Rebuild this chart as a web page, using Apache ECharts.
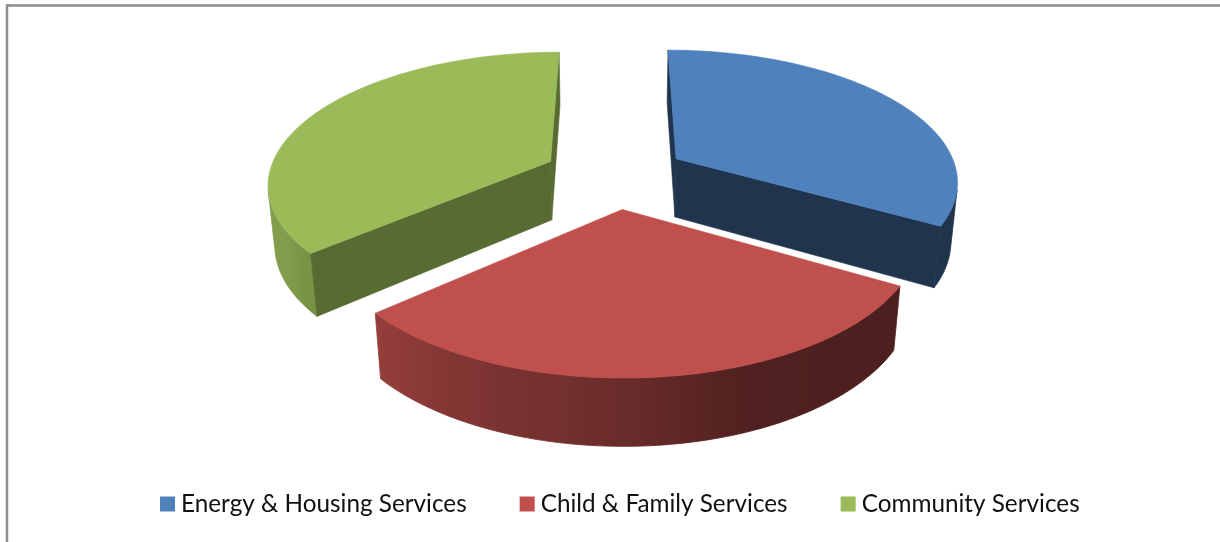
<!DOCTYPE html>
<html>
<head>
<meta charset="utf-8">
<style>html,body{margin:0;padding:0;background:#fff}#chart{width:1220px;height:542px}</style>
<script src="https://cdn.jsdelivr.net/npm/echarts@6/dist/echarts.min.js"></script>
</head>
<body>
<div id="chart"></div>
<script>
// Share of services by programme area
const categories = ['Energy & Housing Services', 'Child & Family Services', 'Community Services'];
const shares = [33.3, 30.3, 36.4];
const topColors = ['#4f81bd', '#c0504d', '#9bbb59'];
const cutShade = [0.41, 0.6, 0.57];

// Camera and pie solid, in world units
const view = { cx: 615, cy: 175, radius: 282, height: 68, explode: 72, elev: 27.5 * Math.PI / 180, dist: 1604 };

function project(x, y, z) {
  const s = Math.sin(view.elev), c = Math.cos(view.elev);
  const yc = y * s + z * c;
  const zc = view.dist + y * c - z * s;
  const k = view.dist / zc;
  return [view.cx + x * k, view.cy - yc * k];
}

function toRgb(hex, f) {
  const n = parseInt(hex.slice(1), 16);
  return 'rgb(' + [(n >> 16) & 255, (n >> 8) & 255, n & 255].map(v => Math.round(v * f)).join(',') + ')';
}

// Brightness of the outer wall against its outward heading in degrees, clockwise from the back
const wallStops = [[0, 0.41], [140, 0.4], [160, 0.42], [180, 0.55], [210, 0.68], [240, 0.84], [300, 0.88], [360, 0.88]];
function wallShade(deg) {
  for (let i = 1; i < wallStops.length; i++) {
    const a = wallStops[i - 1], b = wallStops[i];
    if (deg <= b[0]) return a[1] + (b[1] - a[1]) * (deg - a[0]) / (b[0] - a[0]);
  }
  return 0.88;
}

function signedArea(p) {
  let t = 0;
  for (let i = 0; i < p.length; i++) {
    const q = p[(i + 1) % p.length];
    t += p[i][0] * q[1] - q[0] * p[i][1];
  }
  return t / 2;
}

const total = shares.reduce((a, b) => a + b, 0);

function renderSlice(index) {
  const before = shares.slice(0, index).reduce((a, b) => a + b, 0);
  const a0 = before / total * 2 * Math.PI;
  const a1 = (before + shares[index]) / total * 2 * Math.PI;
  const mid = (a0 + a1) / 2;
  const ox = Math.sin(mid) * view.explode, oy = Math.cos(mid) * view.explode;
  const rim = (a, z) => project(ox + Math.sin(a) * view.radius, oy + Math.cos(a) * view.radius, z);
  const hub = z => project(ox, oy, z);
  const color = topColors[index];
  const children = [];
  const face = (points, fill) => children.push({
    type: 'polygon', shape: { points }, style: { fill, stroke: fill, lineWidth: 0.6 }
  });

  // Curved outer wall: the visible stretch as one polygon, shaded left to right
  const steps = 90;
  const upper = [], lower = [], marks = [];
  for (let i = 0; i < steps; i++) {
    const u0 = a0 + (a1 - a0) * i / steps;
    const u1 = a0 + (a1 - a0) * (i + 1) / steps;
    const strip = [rim(u0, 0), rim(u1, 0), rim(u1, -view.height), rim(u0, -view.height)];
    if (signedArea(strip) >= 0) continue;
    if (!upper.length) { upper.push(rim(u0, 0)); lower.push(rim(u0, -view.height)); marks.push([rim(u0, 0)[0], u0]); }
    upper.push(rim(u1, 0));
    lower.push(rim(u1, -view.height));
    marks.push([rim(u1, 0)[0], u1]);
  }
  if (upper.length) {
    marks.sort((p, q) => p[0] - q[0]);
    const xMin = marks[0][0], xMax = marks[marks.length - 1][0];
    const colorStops = marks.map(m => ({
      offset: (m[0] - xMin) / (xMax - xMin),
      color: toRgb(color, wallShade(m[1] * 180 / Math.PI))
    }));
    const fill = new echarts.graphic.LinearGradient(xMin, 0, xMax, 0, colorStops, true);
    children.push({
      type: 'polygon',
      shape: { points: upper.concat(lower.reverse()) },
      style: { fill, stroke: fill, lineWidth: 0.8 }
    });
  }

  // Straight cut walls; only those facing the camera are drawn
  const startWall = [hub(0), rim(a0, 0), rim(a0, -view.height), hub(-view.height)];
  const endWall = [hub(0), hub(-view.height), rim(a1, -view.height), rim(a1, 0)];
  const cutFill = toRgb(color, cutShade[index]);
  if (signedArea(startWall) < 0) face(startWall, cutFill);
  if (signedArea(endWall) < 0) face(endWall, cutFill);

  // Top face
  const top = [hub(0)];
  for (let i = 0; i <= steps; i++) top.push(rim(a0 + (a1 - a0) * i / steps, 0));
  face(top, color);
  return { type: 'group', children };
}

const chart = echarts.init(document.getElementById('chart'), null, { renderer: 'canvas' });
chart.setOption({
  animation: false,
  backgroundColor: '#ffffff',
  color: topColors,
  graphic: [
    { type: 'line', silent: true, shape: { x1: 7, y1: 5.5, x2: 1220, y2: 5.5 }, style: { stroke: '#8c8c8c', lineWidth: 2.5 } },
    { type: 'line', silent: true, shape: { x1: 7, y1: 4.25, x2: 7, y2: 542 }, style: { stroke: '#8c8c8c', lineWidth: 2.5 } }
  ],
  legend: {
    data: categories,
    orient: 'horizontal',
    left: 155,
    top: 487,
    icon: 'rect',
    itemWidth: 15,
    itemHeight: 15,
    itemGap: 53,
    textStyle: { fontFamily: 'Lato', fontSize: 24.3, color: '#111111', padding: [0, 0, 0, 1] },
    selectedMode: false
  },
  series: categories.map((name, i) => ({
    type: 'custom',
    name,
    coordinateSystem: 'none',
    silent: true,
    z: i === 1 ? 3 : 2,
    itemStyle: { color: topColors[i] },
    data: [shares[i]],
    renderItem: () => renderSlice(i)
  }))
});
</script>
</body>
</html>
